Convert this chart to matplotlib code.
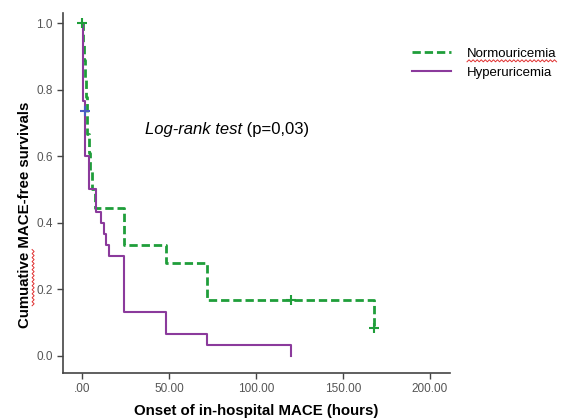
import numpy as np
import matplotlib
matplotlib.use("Agg")
import matplotlib.pyplot as plt
from matplotlib.lines import Line2D

plt.rcParams['font.family'] = ['Liberation Sans', 'DejaVu Sans']

# Kaplan-Meier step data (hours, survival after event)
normo_times = [0, 0.5, 1.0, 1.5, 2.0, 2.5, 3.0, 4.0, 4.5, 5.5, 7.5, 24, 48, 72, 168]
normo_surv = [1.0, 0.944, 0.889, 0.833, 0.778, 0.722, 0.667, 0.611, 0.556, 0.5, 0.444, 0.333, 0.278, 0.167, 0.083]
normo_cens_t = [0, 120, 168]
normo_cens_s = [1.0, 0.167, 0.083]

hyper_times = [0, 0.7, 1.7, 3.8, 8.0, 10.7, 12.8, 13.6, 15.7, 24, 48, 72, 120]
hyper_surv = [1.0, 0.767, 0.6, 0.5, 0.433, 0.4, 0.367, 0.333, 0.3, 0.133, 0.067, 0.033, 0.0]
hyper_cens_t = [1.7]
hyper_cens_s = [0.735]

xticks = [0, 50, 100, 150, 200]
xticklabels = ['.00', '50.00', '100.00', '150.00', '200.00']
yticks = [0.0, 0.2, 0.4, 0.6, 0.8, 1.0]
yticklabels = ['0.0', '0.2', '0.4', '0.6', '0.8', '1.0']

green = '#1f9e3a'
purple = '#8b3a9c'
censor_blue = '#4a5cc4'
dash = (0, (3, 1.4))

fig = plt.figure(figsize=(5.63, 4.2), dpi=100)
ax = fig.add_axes([0.112, 0.112, 0.687, 0.857])

ax.step(normo_times, normo_surv, where='post', color=green, lw=2, ls=dash)
ax.step(hyper_times, hyper_surv, where='post', color=purple, lw=1.5)
ax.plot(normo_cens_t, normo_cens_s, '+', color=green, ms=7, mew=1.5)
ax.plot(hyper_cens_t, hyper_cens_s, '+', color=censor_blue, ms=7, mew=1.5)

ax.set_xlim(-11, 211.5)
ax.set_ylim(-0.051, 1.03)
ax.set_xticks(xticks)
ax.set_xticklabels(xticklabels)
ax.set_yticks(yticks)
ax.set_yticklabels(yticklabels)
ax.tick_params(labelsize=8.5, labelcolor='#555555', color='#444444', length=4, width=1)

for s in ['top', 'right']:
    ax.spines[s].set_visible(False)
for s in ['left', 'bottom']:
    ax.spines[s].set_color('#444444')
    ax.spines[s].set_linewidth(1.2)

ax.set_xlabel('Onset of in-hospital MACE (hours)', fontsize=10.8, fontweight='bold', labelpad=6)
ax.set_ylabel('Cumuative MACE-free survivals', fontsize=10.8, fontweight='bold')
ax.yaxis.set_label_coords(-0.08, 0.44)

t1 = ax.text(36, 0.68, 'Log-rank test', fontsize=12, style='italic', va='center', ha='left')
ax.annotate(' (p=0,03)', xy=(1, 0.5), xycoords=t1, fontsize=12, va='center', ha='left')

handles = [Line2D([], [], color=green, lw=2, ls=dash),
           Line2D([], [], color=purple, lw=1.5)]
leg = fig.legend(handles, ['Normouricemia', 'Hyperuricemia'], loc='upper left',
                 bbox_to_anchor=(0.71, 0.915), frameon=False, fontsize=9.5,
                 handlelength=3.0, handletextpad=1.2, labelspacing=0.5)

# red spell-check squiggles seen in the original screenshot
fig.canvas.draw()
r = fig.canvas.get_renderer()


def squiggle(x0, x1, y, vertical=False):
    n = int(abs(x1 - x0) / 2) + 1
    a = np.linspace(x0, x1, n)
    b = y + np.where(np.arange(n) % 2 == 0, -1.0, 1.0)
    xs, ys = (b, a) if vertical else (a, b)
    fig.add_artist(Line2D(xs / fig.bbox.width, ys / fig.bbox.height,
                          color='#e03030', lw=0.7, transform=fig.transFigure))


bb = leg.get_texts()[0].get_window_extent(r)
squiggle(bb.x0, bb.x1, bb.y0 - 1)

yl = ax.yaxis.label
ybb = yl.get_window_extent(r)
tmp = fig.text(0, 0, 'Cumuative', fontsize=10.8, fontweight='bold')
w = tmp.get_window_extent(r).width
tmp.remove()
squiggle(ybb.y0 + 22, ybb.y0 + w + 2, ybb.x1 + 1, vertical=True)

fig.savefig('out.png', dpi=100, facecolor='white')
